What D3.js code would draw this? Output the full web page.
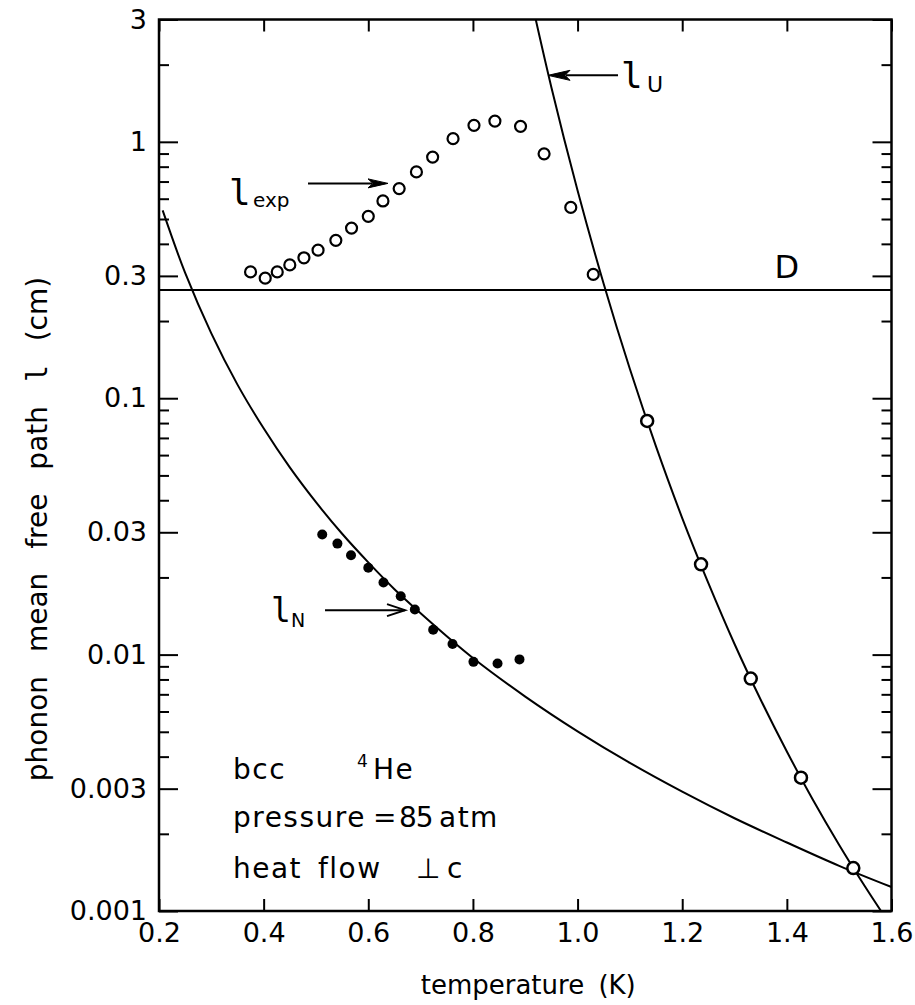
<!DOCTYPE html>
<html>
<head>
<meta charset="utf-8">
<script src="https://cdn.jsdelivr.net/npm/d3@7"></script>
<style>
  html, body { margin: 0; padding: 0; background: #fff; }
  svg { display: block; }
  text { font-family: "DejaVu Sans", "Liberation Sans", sans-serif; fill: #000; }
  .ell { font-family: "DejaVu Sans Mono", "DejaVu Sans", monospace; }
</style>
</head>
<body>
<svg id="chart" width="915" height="1005"></svg>
<script>
// ---- data: temperature T (K) and phonon mean free path l (cm) ----
// measured l_exp (open circles)
const expT = [0.375, 0.403, 0.426, 0.450, 0.477, 0.504, 0.538, 0.568, 0.600, 0.628,
              0.659, 0.692, 0.723, 0.762, 0.802, 0.842, 0.891, 0.936, 0.987, 1.030];
const expL = [0.311, 0.294, 0.311, 0.331, 0.353, 0.378, 0.413, 0.461, 0.512, 0.588,
              0.657, 0.763, 0.872, 1.029, 1.160, 1.205, 1.149, 0.898, 0.555, 0.304];

// l_N points (filled dots)
const nT = [0.512, 0.541, 0.567, 0.600, 0.629, 0.662, 0.689, 0.724, 0.761, 0.801, 0.847, 0.889];
const nL = [0.0294, 0.0271, 0.0244, 0.0218, 0.0191, 0.0169, 0.0150, 0.0125, 0.0110, 0.00937, 0.00924, 0.00958];

// l_U points (open circles on the umklapp curve)
const uT = [1.133, 1.236, 1.331, 1.427, 1.527];
const uL = [0.0815, 0.0225, 0.00806, 0.00331, 0.00147];

// normal-process curve l_N(T)
const curveNT = [0.207, 0.25, 0.30, 0.35, 0.40, 0.45, 0.50, 0.55, 0.60, 0.65, 0.70,
                 0.75, 0.80, 0.90, 1.00, 1.10, 1.20, 1.30, 1.40, 1.50, 1.60];
const curveNL = [0.540, 0.308, 0.179, 0.113, 0.0763, 0.0537, 0.0393, 0.0296, 0.0229, 0.0180, 0.0145,
                 0.0118, 0.0097, 0.00686, 0.00502, 0.00378, 0.00292, 0.00230, 0.00185, 0.00150, 0.00124];

// umklapp curve l_U(T)
const curveUT = [0.90, 0.95, 1.00, 1.05, 1.10, 1.15, 1.20, 1.25, 1.30, 1.35, 1.40, 1.45, 1.50, 1.55, 1.58];
const curveUL = [4.58, 1.63, 0.646, 0.279, 0.130, 0.0647, 0.0341, 0.0190, 0.0110, 0.00667, 0.00419,
                 0.00271, 0.00181, 0.00124, 0.00100];

// sample diameter D (cm)
const sampleD = 0.264;

// axes
const xTicks = [0.2, 0.4, 0.6, 0.8, 1.0, 1.2, 1.4, 1.6];
const xTickLabels = ["0.2", "0.4", "0.6", "0.8", "1.0", "1.2", "1.4", "1.6"];
const yTicks = [0.001, 0.003, 0.01, 0.03, 0.1, 0.3, 1, 3];
const yTickLabels = ["0.001", "0.003", "0.01", "0.03", "0.1", "0.3", "1", "3"];

// ---- layout ----
const W = 915, H = 1005;
const margin = { left: 159, right: 23.5, top: 19.5, bottom: 94 };
const x0 = margin.left, x1 = W - margin.right;
const y0 = H - margin.bottom, y1 = margin.top;

const x = d3.scaleLinear().domain([0.2, 1.6]).range([x0, x1]);
const y = d3.scaleLog().domain([0.001, 3]).range([y0, y1]);

const svg = d3.select("#chart");

svg.append("defs").append("clipPath").attr("id", "plot-clip")
  .append("rect").attr("x", x0).attr("y", y1).attr("width", x1 - x0).attr("height", y0 - y1);

// minor log ticks (2..9 of each decade)
const yMinor = [];
[0.001, 0.01, 0.1, 1].forEach(dec => {
  for (let m = 2; m <= 9; m++) {
    const v = m * dec;
    if (m !== 3 && v < 3) yMinor.push(v);
  }
});

function styleAxis(g) {
  g.select(".domain").remove();
  g.selectAll(".tick line").attr("stroke", "#000").attr("stroke-width", 2);
  g.selectAll(".tick text").attr("font-size", 27).attr("font-family", "DejaVu Sans, sans-serif").attr("fill", "#000");
}

// left axis
svg.append("g").attr("transform", `translate(${x0},0)`)
  .call(d3.axisLeft(y).tickValues(yTicks).tickFormat((d, i) => yTickLabels[i])
    .tickSizeInner(-19).tickSizeOuter(0).tickPadding(12))
  .call(styleAxis);
svg.append("g").attr("transform", `translate(${x0},0)`)
  .call(d3.axisLeft(y).tickValues(yMinor).tickFormat("").tickSizeInner(-10).tickSizeOuter(0))
  .call(styleAxis);

// right axis
svg.append("g").attr("transform", `translate(${x1},0)`)
  .call(d3.axisRight(y).tickValues(yTicks).tickFormat("").tickSizeInner(-19).tickSizeOuter(0))
  .call(styleAxis);
svg.append("g").attr("transform", `translate(${x1},0)`)
  .call(d3.axisRight(y).tickValues(yMinor).tickFormat("").tickSizeInner(-10).tickSizeOuter(0))
  .call(styleAxis);

// bottom axis
svg.append("g").attr("transform", `translate(0,${y0})`)
  .call(d3.axisBottom(x).tickValues(xTicks).tickFormat((d, i) => xTickLabels[i])
    .tickSizeInner(-12).tickSizeOuter(0).tickPadding(12))
  .call(styleAxis);

// top axis
svg.append("g").attr("transform", `translate(0,${y1})`)
  .call(d3.axisTop(x).tickValues(xTicks).tickFormat("").tickSizeInner(-12).tickSizeOuter(0))
  .call(styleAxis);

// frame
svg.append("rect").attr("x", x0).attr("y", y1).attr("width", x1 - x0).attr("height", y0 - y1)
  .attr("fill", "none").attr("stroke", "#000").attr("stroke-width", 2.5);

// axis titles
svg.append("text").attr("x", (x0 + x1) / 2 + 3).attr("y", 994)
  .attr("text-anchor", "middle").attr("font-size", 26).attr("word-spacing", 6)
  .text("temperature (K)");

const yTitle = svg.append("text").attr("transform", "translate(47,529) rotate(-90)")
  .attr("text-anchor", "middle").attr("font-size", 28).attr("word-spacing", 15);
yTitle.append("tspan").text("phonon mean free path ");
yTitle.append("tspan").attr("class", "ell").text("l");
yTitle.append("tspan").text(" (cm)");

const plot = svg.append("g").attr("clip-path", "url(#plot-clip)");

// D line
plot.append("line")
  .attr("x1", x(0.2)).attr("x2", x(1.6))
  .attr("y1", y(sampleD)).attr("y2", y(sampleD))
  .attr("stroke", "#000").attr("stroke-width", 2);

const line = d3.line().x(d => x(d[0])).y(d => y(d[1])).curve(d3.curveCatmullRom.alpha(0.5));

plot.append("path").datum(curveNT.map((t, i) => [t, curveNL[i]]))
  .attr("d", line).attr("fill", "none").attr("stroke", "#000").attr("stroke-width", 2);

plot.append("path").datum(curveUT.map((t, i) => [t, curveUL[i]]))
  .attr("d", line).attr("fill", "none").attr("stroke", "#000").attr("stroke-width", 2);

// markers
plot.selectAll("circle.exp").data(expT.map((t, i) => [t, expL[i]])).enter()
  .append("circle").attr("class", "exp")
  .attr("cx", d => x(d[0])).attr("cy", d => y(d[1])).attr("r", 5.5)
  .attr("fill", "#fff").attr("stroke", "#000").attr("stroke-width", 2.2);

plot.selectAll("circle.n").data(nT.map((t, i) => [t, nL[i]])).enter()
  .append("circle").attr("class", "n")
  .attr("cx", d => x(d[0])).attr("cy", d => y(d[1])).attr("r", 5)
  .attr("fill", "#000");

plot.selectAll("circle.u").data(uT.map((t, i) => [t, uL[i]])).enter()
  .append("circle").attr("class", "u")
  .attr("cx", d => x(d[0])).attr("cy", d => y(d[1])).attr("r", 6)
  .attr("fill", "#fff").attr("stroke", "#000").attr("stroke-width", 2.5);

// ---- annotations (anchored in data units) ----
function arrow(from, to, filled, headLen, headHalf) {
  const ax = x(from[0]), ay = y(from[1]), bx = x(to[0]), by = y(to[1]);
  const ang = Math.atan2(by - ay, bx - ax);
  const ux = Math.cos(ang), uy = Math.sin(ang);
  const px = -uy, py = ux;
  const hx = bx - ux * headLen, hy = by - uy * headLen;
  const g = svg.append("g");
  g.append("line").attr("x1", ax).attr("y1", ay)
    .attr("x2", filled ? hx + ux * 4 : bx).attr("y2", filled ? hy + uy * 4 : by)
    .attr("stroke", "#000").attr("stroke-width", 2);
  const pts = [[hx + px * headHalf, hy + py * headHalf], [bx, by], [hx - px * headHalf, hy - py * headHalf]];
  if (filled) {
    g.append("path").attr("d", `M${pts[0]}L${pts[1]}L${pts[2]}L${hx + ux * 5},${hy + uy * 5}Z`)
      .attr("fill", "#000").attr("stroke", "#000").attr("stroke-width", 1);
  } else {
    g.append("path").attr("d", `M${pts[0]}L${pts[1]}L${pts[2]}`)
      .attr("fill", "none").attr("stroke", "#000").attr("stroke-width", 2);
  }
  return [ax, ay];
}

function label(px, py, sub, mainSize, subSize, subDx, subDy) {
  svg.append("text").attr("class", "ell").attr("x", px).attr("y", py).attr("font-size", mainSize).text("l");
  svg.append("text").attr("x", px + subDx).attr("y", py + subDy).attr("font-size", subSize).text(sub);
}

// l_exp
const aExp = arrow([0.4848, 0.6885], [0.6377, 0.6885], true, 20, 4.5);
label(aExp[0] - 79, aExp[1] + 22, "exp", 36, 20, 24, 2);

// l_U
const aU = arrow([1.0773, 1.817], [0.9435, 1.817], true, 22, 5);
label(aU[0] + 3, aU[1] + 13, "U", 36, 22, 26, 4);

// l_N
const aN = arrow([0.5173, 0.01491], [0.6702, 0.01491], false, 18, 6);
label(aN[0] - 54, aN[1] + 12, "N", 33, 19, 20, 5);

// D
svg.append("text").attr("x", x(1.400)).attr("y", y(sampleD) - 12)
  .attr("text-anchor", "middle").attr("font-size", 32).text("D");

// sample description
const bx = x(0.3414), by = y(0.00327);
const notes = svg.append("g").attr("font-size", 28).attr("letter-spacing", 1.5);
notes.append("text").attr("x", bx).attr("y", by).text("bcc");
notes.append("text").attr("x", bx + 124).attr("y", by - 12).attr("font-size", 17).text("4");
notes.append("text").attr("x", bx + 140).attr("y", by).text("He");
notes.append("text").attr("x", bx).attr("y", by + 48).text("pressure");
notes.append("text").attr("x", bx + 140).attr("y", by + 48).text("=");
notes.append("text").attr("x", bx + 166).attr("y", by + 48).attr("letter-spacing", -1).text("85");
notes.append("text").attr("x", bx + 206).attr("y", by + 48).text("atm");
notes.append("text").attr("x", bx).attr("y", by + 99).text("heat");
notes.append("text").attr("x", bx + 85).attr("y", by + 99).text("flow");
notes.append("text").attr("x", bx + 183).attr("y", by + 99).text("⊥");
notes.append("text").attr("x", bx + 214).attr("y", by + 99).text("c");
</script>
</body>
</html>
